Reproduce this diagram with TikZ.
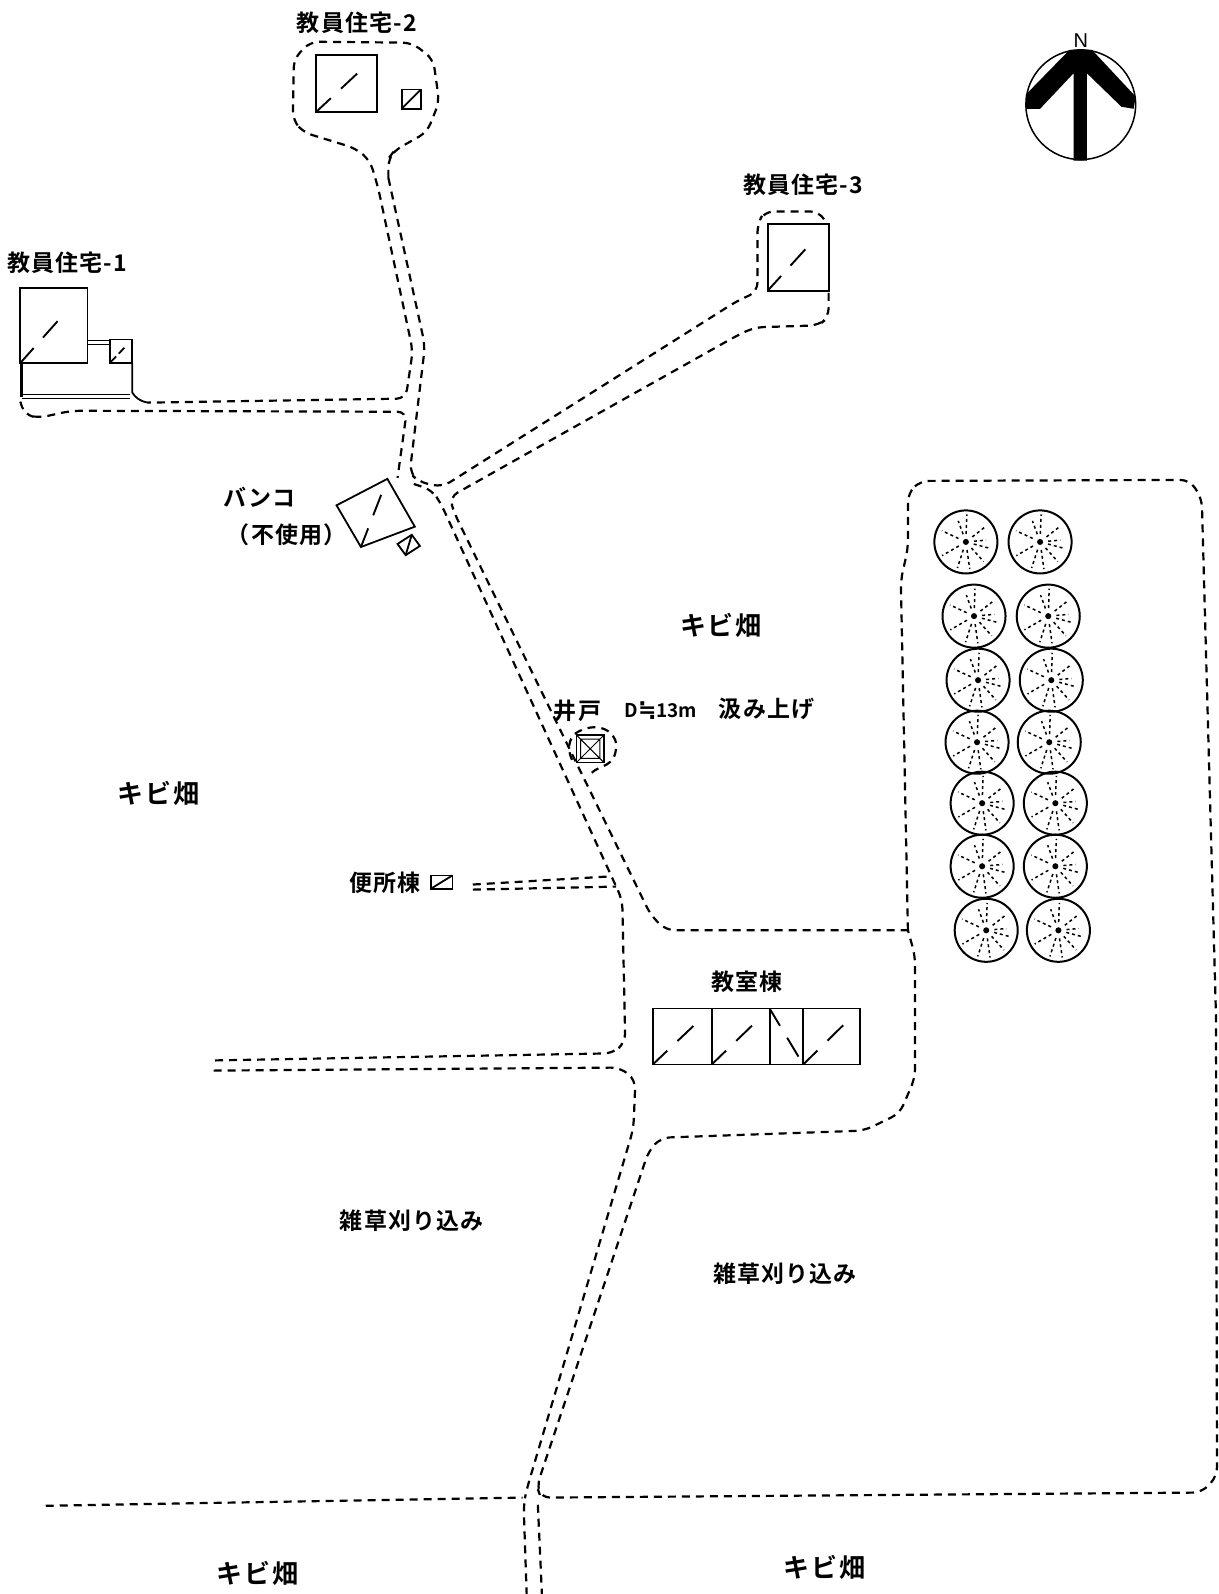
\documentclass[tikz,border=0pt]{standalone}
\usepackage{fontspec}
\newfontfamily\jp{Noto Sans CJK JP}[BoldFont={* Bold}]
\newfontfamily\jpwide{Noto Sans CJK JP}[BoldFont={* Bold},LetterSpace=7]
\newfontfamily\jpsp{Noto Sans CJK JP}[BoldFont={* Bold},LetterSpace=5]
\newfontfamily\symfnt{DejaVu Sans}
\tikzset{
  x=1.0167pt,y=-1.0167pt,
  road/.style={line width=2.2pt,dash pattern=on 8pt off 6pt,rounded corners=9pt,black},
  wall/.style={line width=1.8pt,black},
  diag/.style={line width=1.9pt,black,dash pattern=on 20pt off 14pt on 22pt off 100pt},
  lbl/.style={font=\jpsp\bfseries\fontsize{23}{25}\selectfont,inner sep=0pt,black},
  widelbl/.style={font=\jpwide\bfseries\fontsize{26}{28}\selectfont,inner sep=0pt,black},
  tree/.pic={
    \draw[line width=2pt] (0,0) circle (31);
    \fill (0,0) circle (3);
    \foreach \a/\r in {15/25,48/26,82/27,108/27,150/27,205/26,250/22,272/27,322/24,355/20}
      \draw[line width=1.5pt,dash pattern=on 3pt off 3pt] (\a:8) -- (\a:\r);
  }
}
\begin{document}
\begin{tikzpicture}
\useasboundingbox[fill=white] (0,0) rectangle (1198,1567.8);

% north arrow
\draw[line width=1.5pt] (1063,103) circle (54);
\fill (1052,49) -- (1074,49) -- (1117,95) -- (1115,107) -- (1103,105) -- (1069,72) -- (1069,158) -- (1056,158) -- (1056,72) -- (1023,107) -- (1009,107) -- (1009,93) -- cycle;
\node[font=\fontspec{Liberation Sans}\fontsize{20}{20}\selectfont,inner sep=0pt] (north) at (1063,40) {N};

% teacher housing 2 lot and road
\draw[road] (382,175) -- (382,156) -- (388,148) -- (420,130) -- (432,100) -- (426,58) -- (405,42) -- (305,41) -- (289,58) -- (288,118) -- (298,130) -- (350,146) -- (364,158) -- (372,185) -- (406,345) -- (399,392) -- (145,396);
\draw[road] (382,175) -- (418,340) -- (403,465) -- (412,474) -- (435,479) -- (725,296) -- (745,287) -- (745,220) -- (752,208) -- (806,208) -- (813,220);
\draw[road] (815,288) -- (815,312) -- (805,320) -- (742,322) -- (725,330) -- (442,489) -- (447,505) -- (640,900) -- (655,915) -- (893,915);
\draw[road] (20,395) -- (24,408) -- (38,411) -- (70,404) -- (400,405) -- (391,470);
\draw[road] (407,476) -- (425,482) -- (434,496) -- (612,885) -- (615,1025) -- (603,1036) -- (210,1043);
\draw[road] (210,1053) -- (610,1050) -- (625,1062) -- (623,1110) -- (518,1465) -- (515,1480) -- (518,1568);
\draw[road] (529,1480) -- (533,1568);
\draw[road] (45,1481) -- (514,1473);
\draw[road] (893,915) -- (886,570) -- (893,540) -- (893,485) -- (905,473) -- (1170,472) -- (1182,490) -- (1196,1000) -- (1197,1452) -- (1182,1468) -- (532,1473) -- (528,1462) -- (638,1132) -- (650,1119) -- (850,1112) -- (885,1095) -- (900,1060) -- (900,940) -- (893,915);
\draw[road] (465,870) -- (600,862);
\draw[road] (465,875) -- (606,872);
% well surround
\draw[road,rounded corners=0pt] (582,760) .. controls (590,752) and (606,755) .. (606,733) .. controls (606,718) and (585,708) .. (565,722) .. controls (558,730) and (558,740) .. (565,752);

% teacher housing 2
\draw[wall] (311,54) rectangle (371,110);
\draw[diag] (311,110) -- (371,54);
\draw[wall] (395,88) rectangle (414,107);
\draw[wall] (395,107) -- (414,88);
% teacher housing 3
\draw[wall] (755,220) rectangle (815,286);
\draw[diag] (755,286) -- (815,220);
% teacher housing 1
\draw[wall] (20,283) rectangle (86,357);
\draw[diag] (20,357) -- (86,283);
\draw[wall] (108,334) rectangle (130,357);
\draw[wall,dash pattern=on 9pt off 4pt on 8pt off 40pt] (108,357) -- (130,334);
\draw[line width=1pt] (86,335) -- (108,335) (86,339) -- (108,339);
\draw[line width=3pt] (21,357) -- (21,390);
\draw[line width=1pt] (20,388) -- (128,388) (22,392) -- (128,392);
\draw[wall] (130,357) -- (130,386) .. controls (133,391) and (138,395) .. (146,396);
% banco
\draw[wall] (331,497) -- (381,471) -- (408,518) -- (355,538) -- cycle;
\draw[diag] (355,538) -- (381,471);
\draw[wall] (391,535) -- (405,526) -- (413,537) -- (399,546) -- cycle;
\draw[wall] (399,546) -- (405,526);
% well
\draw[wall] (567,723) rectangle (594,750);
\draw[line width=1pt] (571,727) rectangle (590,746) (567,723) -- (594,750) (567,750) -- (594,723);
% toilet
\draw[wall] (424,861) rectangle (445,874);
\draw[wall] (424,874) -- (445,861);
% classrooms
\draw[wall] (642,992) rectangle (846,1047);
\draw[line width=2.2pt] (700,992) -- (700,1047) (757,992) -- (757,1047) (790,992) -- (790,1047);
\draw[diag] (642,1047) -- (700,992);
\draw[diag] (700,1047) -- (757,992);
\draw[diag] (757,992) -- (790,1047);
\draw[diag] (790,1047) -- (846,992);

% trees
\foreach \cx/\cy in {950/533,1023/533,958/606,1031/606,962/669,1034/669,961/730,1032/730,966/790,1038/790,966/852,1038/852,970/915,1041/915}
  \pic at (\cx,\cy) {tree};

% labels
\node[lbl] (t2) at (351,22) {教員住宅-2};
\node[lbl] (t3) at (790,182) {教員住宅-3};
\node[lbl] (t1) at (66,258) {教員住宅-1};
\node[lbl] (banco) at (255,489) {バンコ};
\node[lbl] (unused) at (282,526) {（不使用）};
\node[widelbl] (k1) at (709,615) {キビ畑};
\node[widelbl] (k2) at (156,780) {キビ畑};
\node[widelbl] (k3) at (253,1548) {キビ畑};
\node[widelbl] (k4) at (811,1542) {キビ畑};
\node[lbl] (well) at (568,699) {井戸};
\node[lbl,font=\jp\bfseries\fontsize{19}{20}\selectfont] (depth) at (650,699) {D{\symfnt\fontsize{22}{22}\selectfont ≒}13m};
\node[lbl] (pump) at (754,697) {汲み上げ};
\node[lbl] (toilet) at (379,868) {便所棟};
\node[lbl] (class) at (735,966) {教室棟};
\node[lbl] (w1) at (405,1201) {雑草刈り込み};
\node[lbl] (w2) at (772,1253) {雑草刈り込み};
\end{tikzpicture}
\end{document}
